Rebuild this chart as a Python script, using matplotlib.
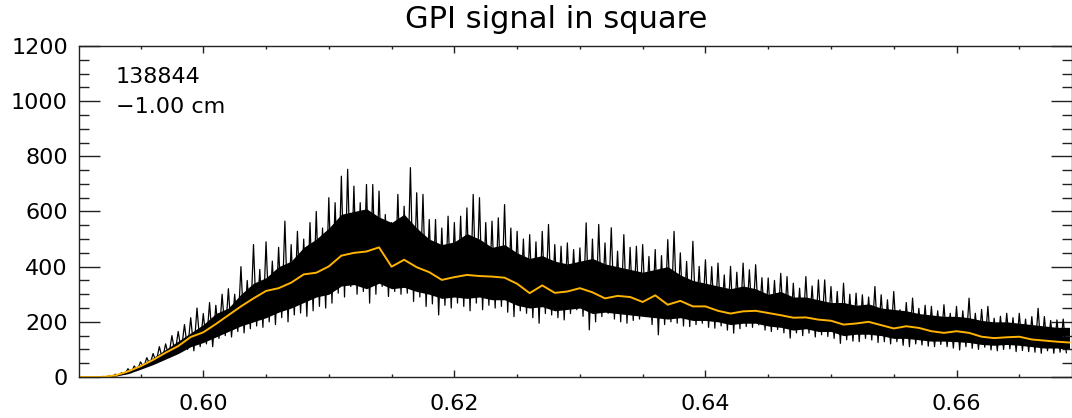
import numpy as np
import matplotlib
matplotlib.use('Agg')
import matplotlib.pyplot as plt
from matplotlib.ticker import MultipleLocator

# GPI signal, shot 138844, -1.00 cm
# black trace: spike tops (hi) and spike bottoms (lo)
sig_x0 = 0.5900      # first hi sample
sig_dx = 0.0005      # hi-to-hi spacing, lo sits half way between
hi = [0, 0, 0, 1,
      2, 4, 10, 16, 30, 40, 55, 70, 85, 110, 120, 150, 165, 190, 215, 250,
      230, 270, 260, 300, 320, 300, 400, 350, 480, 390, 490, 420, 470, 565,
      480, 528, 500, 560, 600, 540, 650, 632, 728, 753, 692, 632, 698, 698,
      674, 589, 560, 662, 619, 759, 668, 662, 571, 571, 540, 583, 560, 583,
      613, 662, 650, 560, 565, 577, 625, 540, 528, 500, 516, 490, 528, 553,
      480, 474, 486, 462, 468, 559, 500, 553, 486, 541, 456, 516, 470, 474,
      480, 437, 462, 440, 498, 528, 450, 419, 492, 401, 425, 400, 413, 370,
      401, 380, 413, 389, 407, 360, 359, 350, 376, 364, 340, 322, 364, 330,
      352, 352, 328, 310, 340, 300, 304, 298, 290, 328, 298, 280, 310, 244,
      270, 286, 249, 260, 256, 240, 262, 231, 256, 240, 286, 231, 245, 256,
      213, 220, 231, 215, 231, 210, 219, 249, 219, 205, 207, 210, 219]
lo = [0, 0, 0, 0,
      0, 2, 5, 10, 15, 25, 35, 45, 55, 65, 75, 85, 95, 100, 95, 110,
      120, 110, 140, 150, 145, 165, 160, 175, 185, 180, 200, 190, 215, 200,
      225, 232, 220, 240, 256, 250, 268, 304, 290, 328, 300, 310, 268, 300,
      328, 292, 310, 300, 304, 274, 290, 256, 265, 225, 260, 250, 268, 256,
      240, 268, 244, 260, 250, 256, 235, 219, 240, 231, 215, 195, 230, 225,
      215, 207, 230, 244, 220, 171, 200, 219, 231, 210, 200, 195, 205, 210,
      219, 190, 153, 190, 200, 195, 185, 183, 190, 195, 180, 177, 185, 170,
      159, 175, 183, 180, 189, 170, 165, 172, 160, 141, 160, 150, 159, 145,
      153, 147, 140, 122, 135, 130, 128, 140, 134, 125, 128, 120, 128, 115,
      110, 120, 116, 112, 110, 118, 110, 105, 98, 110, 104, 100, 108, 98,
      95, 100, 102, 92, 96, 92, 90, 86, 95, 86, 90, 88]

# solid black body of the trace, every 0.001
core_x0 = 0.590
core_dx = 0.001
core_lo = [0, 0, 0, 3, 12, 28, 45, 65, 85, 110,
           125, 145, 165, 185, 200, 215, 235, 250, 270, 290,
           300, 330, 335, 320, 340, 320, 325, 310, 300, 285,
           290, 285, 290, 280, 280, 260, 250, 255, 240, 245,
           250, 230, 235, 230, 225, 220, 215, 210, 215, 205,
           205, 200, 190, 195, 195, 185, 180, 170, 175, 165,
           165, 150, 155, 155, 150, 140, 140, 135, 130, 130,
           128, 125, 118, 115, 118, 115, 110, 105, 105, 100]
core_hi = [0, 0, 0, 8, 25, 45, 70, 100, 130, 160,
           190, 230, 250, 300, 340, 360, 400, 420, 470, 500,
           540, 590, 600, 610, 580, 560, 590, 540, 500, 480,
           490, 520, 500, 470, 480, 450, 430, 440, 420, 410,
           420, 430, 410, 400, 390, 380, 390, 400, 370, 350,
           340, 330, 320, 330, 320, 300, 310, 290, 290, 280,
           270, 270, 260, 265, 250, 245, 240, 230, 225, 220,
           220, 215, 205, 200, 200, 195, 190, 185, 180, 180]

# orange trace: running mean, every 0.001
avg_x0 = 0.590
avg_dx = 0.001
avg = [0, 0, 0, 6, 20, 39, 62, 88, 112, 145,
       162, 192, 224, 256, 285, 312, 322, 342, 372, 378,
       401, 440, 450, 455, 470, 400, 425, 398, 380, 352,
       362, 370, 366, 364, 360, 338, 304, 332, 305, 310,
       322, 307, 285, 294, 290, 272, 296, 262, 276, 256,
       256, 240, 230, 238, 240, 232, 224, 215, 216, 208,
       204, 190, 194, 200, 188, 176, 184, 178, 166, 160,
       166, 160, 146, 141, 144, 146, 136, 132, 128, 125]

shot = '138844'
pos_label = '\u22121.00 cm'

n = min(len(hi), len(lo))
sig = np.empty(2 * n)
sig[0::2] = hi[:n]
sig[1::2] = lo[:n]
x_sig = sig_x0 + 0.5 * sig_dx * np.arange(2 * n)
x_core = core_x0 + core_dx * np.arange(len(core_lo))
x_avg = avg_x0 + avg_dx * np.arange(len(avg))

fig = plt.figure(figsize=(10.72, 4.18), dpi=100)
ax = fig.add_axes([79 / 1072, 41 / 418, 993 / 1072, 331 / 418])

ax.fill_between(x_core, core_lo, core_hi, color='black', linewidth=0)
ax.plot(x_sig, sig, color='black', linewidth=0.9)
ax.plot(x_avg, avg, color='#FFB400', linewidth=1.4)

ax.set_xlim(0.5901, 0.6692)
ax.set_ylim(0, 1200)

ax.xaxis.set_major_locator(MultipleLocator(0.02))
ax.xaxis.set_minor_locator(MultipleLocator(0.005))
ax.yaxis.set_major_locator(MultipleLocator(200))
ax.yaxis.set_minor_locator(MultipleLocator(50))
ax.xaxis.set_major_formatter(plt.FuncFormatter(lambda v, p: '%.2f' % v))

ax.tick_params(which='both', direction='in', top=True, right=True,
               labelsize=16, width=1.0, color='#222222')
ax.tick_params(axis='x', which='major', length=5, pad=12)
ax.tick_params(axis='x', which='minor', length=2.5)
ax.tick_params(axis='y', which='major', length=15, pad=8)
ax.tick_params(axis='y', which='minor', length=7)
for s in ax.spines.values():
    s.set_linewidth(1.0)
    s.set_color('#222222')

ax.text(0.0373, 0.888, shot, transform=ax.transAxes, fontsize=16, va='baseline')
ax.text(0.0373, 0.798, pos_label, transform=ax.transAxes, fontsize=16, va='baseline')

fig.text(556 / 1072, 1 - 20 / 418, 'GPI signal in square', fontsize=22,
         ha='center', va='center')

fig.savefig('out.png', dpi=100)
